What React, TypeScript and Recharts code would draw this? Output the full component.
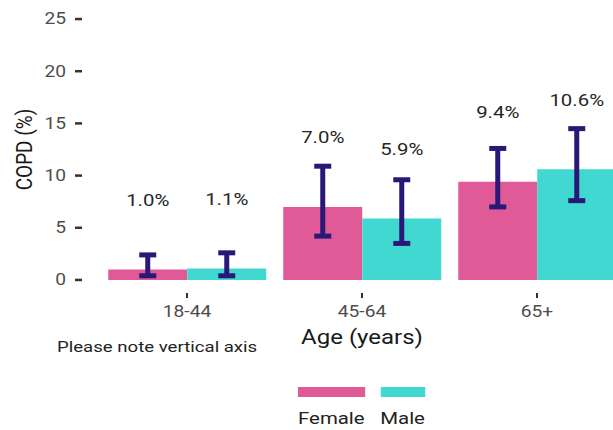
import React from 'react';
import { BarChart, Bar, XAxis, YAxis, ErrorBar, LabelList, Legend } from 'recharts';

const ageGroups = ['18-44', '45-64', '65+'];
const femaleRates = [1.0, 7.0, 9.4];
const femaleLower = [0.4, 4.2, 7.0];
const femaleUpper = [2.4, 10.9, 12.6];
const maleRates = [1.1, 5.9, 10.6];
const maleLower = [0.4, 3.5, 7.6];
const maleUpper = [2.6, 9.6, 14.5];
const yTicks = [0, 5, 10, 15, 20, 25];

const FEMALE = '#e05a97';
const MALE = '#40d8d1';
const ERR = '#2a1878';
const FONT = 'Roboto, sans-serif';
// glyphs are drawn a little wider than the font's natural proportions
const STRETCH = 1.2;

// error bar values are [below, above] distances from the rate
const chartData = ageGroups.map((age, i) => ({
  age,
  female: femaleRates[i],
  femaleErr: [femaleRates[i] - femaleLower[i], femaleUpper[i] - femaleRates[i]],
  male: maleRates[i],
  maleErr: [maleRates[i] - maleLower[i], maleUpper[i] - maleRates[i]],
}));

const WideText = ({ x, y, anchor = 'middle', size, fill, children }: any) => (
  <text
    transform={`translate(${x},${y}) scale(${STRETCH},1)`}
    textAnchor={anchor}
    dominantBaseline="central"
    fontSize={size}
    fill={fill}
    fontFamily={FONT}
  >
    {children}
  </text>
);

const YTick = ({ x, y, payload }: any) => (
  <WideText x={x} y={y} anchor="end" size={16} fill="#4d4d4d">
    {payload.value}
  </WideText>
);

const XTick = ({ x, y, payload }: any) => (
  <WideText x={x} y={y + 12} size={16} fill="#4d4d4d">
    {payload.value}
  </WideText>
);

const ValueLabel = ({ x, y, width, value }: any) => (
  <WideText x={x + width / 2} y={y - 69} size={17} fill="#262626">
    {`${Number(value).toFixed(1)}%`}
  </WideText>
);

const YTitle = ({ viewBox }: any) => {
  const cx = viewBox.x + 24;
  const cy = viewBox.y + viewBox.height / 2;
  return (
    <text
      transform={`translate(${cx},${cy}) rotate(-90) scale(1,${STRETCH})`}
      textAnchor="middle"
      dominantBaseline="central"
      fontSize={19}
      fill="#1a1a1a"
      fontFamily={FONT}
    >
      COPD (%)
    </text>
  );
};

const XTitle = ({ viewBox }: any) => (
  <g>
    <WideText x={viewBox.x + viewBox.width / 2} y={viewBox.y + 44} size={20} fill="#1a1a1a">
      Age (years)
    </WideText>
    <WideText x={57} y={viewBox.y + 54} anchor="start" size={15.5} fill="#222">
      Please note vertical axis
    </WideText>
  </g>
);

const LegendBlock = ({ payload }: any) => (
  <div
    style={{
      display: 'flex',
      gap: 13,
      transform: `scaleX(${STRETCH})`,
      transformOrigin: 'left top',
      fontFamily: FONT,
    }}
  >
    {(payload || []).map((p: any) => (
      <div key={p.value} style={{ display: 'flex', flexDirection: 'column' }}>
        <div style={{ height: 10, background: p.color }} />
        <div style={{ marginTop: 11, fontSize: 17, lineHeight: '20px', color: '#222' }}>{p.value}</div>
      </div>
    ))}
  </div>
);

export default function App() {
  return (
    <div
      style={{
        position: 'absolute',
        left: 0,
        top: 0,
        width: 613,
        height: 430,
        overflow: 'hidden',
        background: '#fff',
      }}
    >
      <BarChart
        width={642}
        height={430}
        data={chartData}
        margin={{ top: 6, right: 0, bottom: 0, left: 0 }}
        barCategoryGap="5%"
        barGap={0}
      >
        <XAxis
          dataKey="age"
          height={137}
          padding={{ left: 17.5, right: 17.5 }}
          axisLine={false}
          tickSize={5}
          tickLine={{ stroke: '#333', strokeWidth: 2 }}
          tick={<XTick />}
          label={<XTitle />}
        />
        <YAxis
          type="number"
          width={82}
          domain={[-1.25, 26.25]}
          ticks={yTicks}
          axisLine={false}
          tickSize={7}
          tickMargin={9}
          tickLine={{ stroke: '#333', strokeWidth: 2.5 }}
          tick={<YTick />}
          label={<YTitle />}
        />
        <Legend
          layout="horizontal"
          verticalAlign="middle"
          align="center"
          wrapperStyle={{ top: 387, left: 298, width: 'auto' }}
          content={<LegendBlock />}
        />
        <Bar dataKey="female" name="Female" fill={FEMALE} isAnimationActive={false}>
          <ErrorBar dataKey="femaleErr" width={8.5} strokeWidth={5} stroke={ERR} isAnimationActive={false} />
          <LabelList dataKey="female" content={<ValueLabel />} />
        </Bar>
        <Bar dataKey="male" name="Male" fill={MALE} isAnimationActive={false}>
          <ErrorBar dataKey="maleErr" width={8.5} strokeWidth={5} stroke={ERR} isAnimationActive={false} />
          <LabelList dataKey="male" content={<ValueLabel />} />
        </Bar>
      </BarChart>
    </div>
  );
}
